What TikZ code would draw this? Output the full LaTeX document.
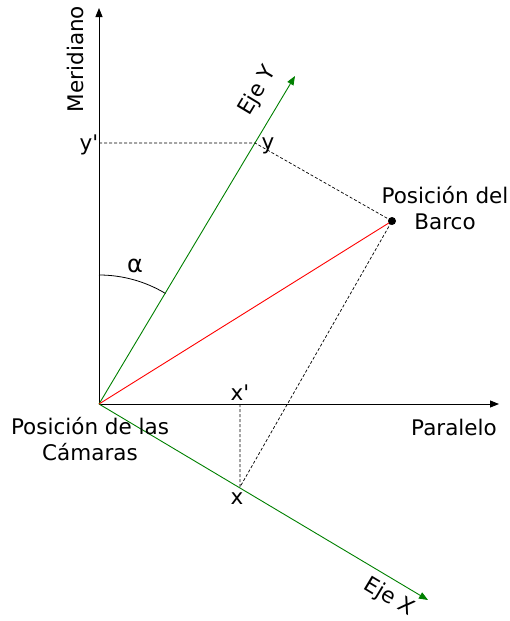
\documentclass[tikz,border=0pt]{standalone}
\usepackage{fontspec}
\setmainfont{DejaVu Sans}
\usetikzlibrary{arrows.meta}
\definecolor{axgreen}{RGB}{0,128,0}
\begin{document}
\begin{tikzpicture}[x=1pt,y=-1pt,
  ax/.style={line width=0.9pt,-{Triangle[length=9pt,width=7pt]}},
  proj/.style={line width=0.7pt,dash pattern=on 3pt off 2pt},
  lbl/.style={font=\fontsize{21.5}{26}\selectfont,inner sep=0pt}]
\useasboundingbox (0,0) rectangle (510,621);
\coordinate (O) at (99,404);
\coordinate (Ntop) at (99,8);
\coordinate (Eend) at (499,404);
\coordinate (Yend) at (295,76);
\coordinate (Xend) at (428,600);
\coordinate (B) at (392,221);
\coordinate (yp) at (99,143);
\coordinate (yy) at (255,143);
\coordinate (xp) at (240,404);
\coordinate (xx) at (240,487);
% axes
\draw[ax] (O) -- (Ntop);
\draw[ax] (O) -- (Eend);
\draw[ax,axgreen] (O) -- (Yend);
\draw[ax,axgreen] (O) -- (Xend);
% boat line
\draw[red,line width=0.9pt] (O) -- (B);
% projections
\draw[proj] (yp) -- (yy) -- (B);
\draw[proj] (xp) -- (xx) -- (B);
% angle
\draw[line width=0.8pt] (99,275) arc[start angle=-90,end angle=-59,radius=129];
\fill (B) circle[radius=4];
% labels
\node[lbl,rotate=90] (mer) at (75,59) {Meridiano};
\node[lbl,rotate=59] (ejey) at (258,91) {Eje Y};
\node[lbl] (lyp) at (89,145) {y\textquotesingle};
\node[lbl] (ly) at (268,146) {y};
\node[lbl,align=center] (barco) at (445,208) {Posición del\\Barco};
\node[lbl,font=\fontsize{24}{28}\selectfont] (alpha) at (135,266) {α};
\node[lbl] (lxp) at (240,393) {x\textquotesingle};
\node[lbl] (lx) at (237,499) {x};
\node[lbl,align=center] (cam) at (90,439) {Posición de las\\Cámaras};
\node[lbl] (par) at (454,427) {Paralelo};
\node[lbl,rotate=-31] (ejex) at (389,597) {Eje X};
\end{tikzpicture}
\end{document}
